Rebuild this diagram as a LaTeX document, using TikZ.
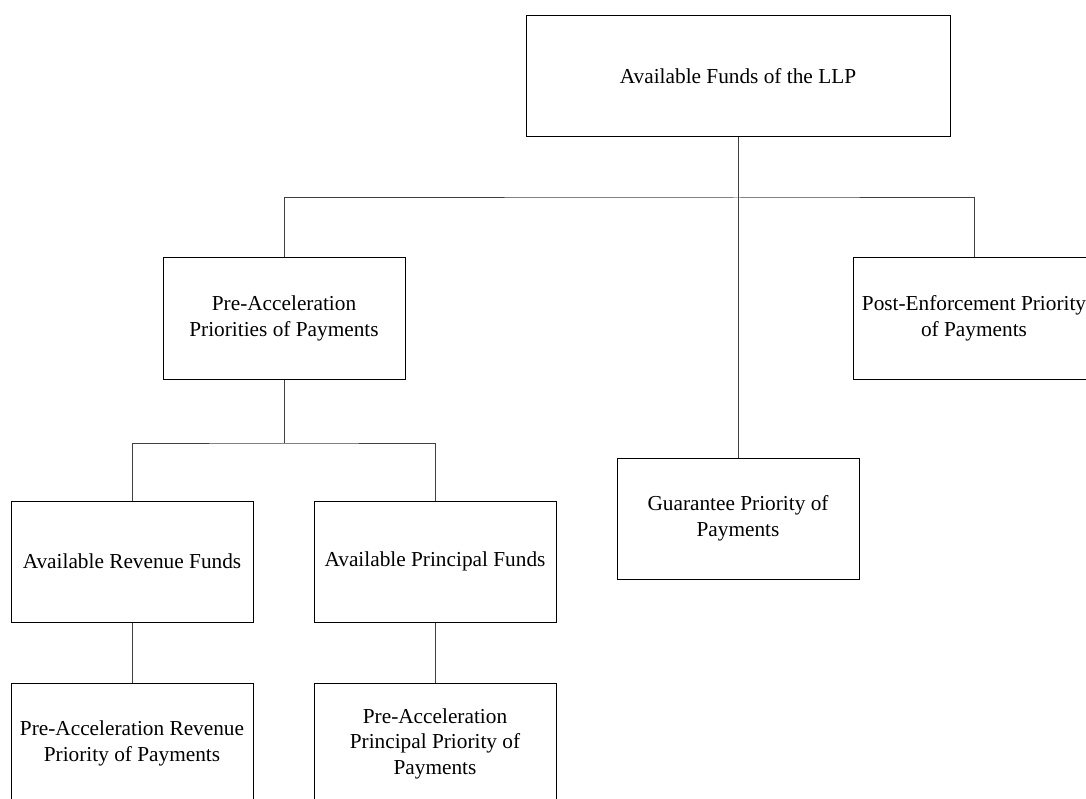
\documentclass[tikz,border=0pt]{standalone}
\usepackage{fontspec}
\setmainfont{Liberation Serif}
\begin{document}
\begin{tikzpicture}[x=1pt,y=-1pt,
  box/.style={draw=black,line width=1pt,rectangle,minimum width=242pt,minimum height=121pt,
    inner sep=0pt,align=center,font=\fontsize{21.3}{25.5}\selectfont},
  conn/.style={draw=black!75,line width=1pt}]
\useasboundingbox (0,0) rectangle (1086,799);
\clip (0,0) rectangle (1086,799);
\fill[white] (0,0) rectangle (1086,799);
\node[box,minimum width=424pt] (top) at (738,76.5) {Available Funds of the LLP};
\node[box] (pre) at (284,318.5) {Pre-Acceleration\\Priorities of Payments};
\node[box] (post) at (974,318.5) {Post-Enforcement Priority\\of Payments};
\node[box] (guar) at (738,518.5) {Guarantee Priority of\\Payments};
\node[box] (rev) at (132,561.5) {Available Revenue Funds};
\node[box] (princ) at (435,561.5) {Available Principal Funds};
\node[box] (prerev) at (132,743.5) {Pre-Acceleration Revenue\\Priority of Payments};
\node[box] (preprinc) at (435,743.5) {Pre-Acceleration\\Principal Priority of\\Payments};
\coordinate (j1) at (738,198);
\coordinate (j2) at (284,443);
\draw[conn] (top.south) -- (guar.north);
\draw[conn] (pre.north) |- (j1) -| (post.north);
\draw[conn] (pre.south) -- (j2);
\draw[conn] (rev.north) |- (j2) -| (princ.north);
\draw[conn] (rev.south) -- (prerev.north);
\draw[conn] (princ.south) -- (preprinc.north);
\end{tikzpicture}
\end{document}
